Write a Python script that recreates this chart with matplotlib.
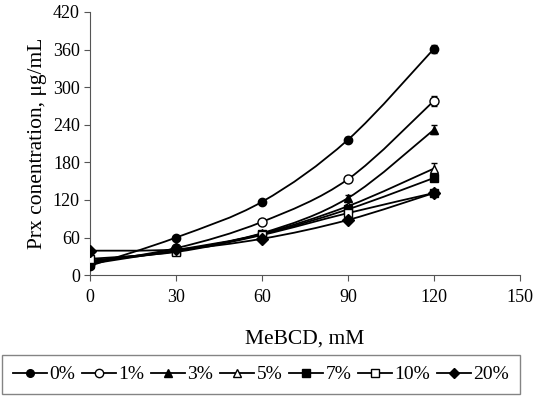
import numpy as np
import matplotlib
matplotlib.use("Agg")
import matplotlib.pyplot as plt
from matplotlib.path import Path
from matplotlib.patches import PathPatch
from matplotlib.lines import Line2D

plt.rcParams['font.family'] = ['Liberation Serif', 'DejaVu Serif']

mebcd = [0, 30, 60, 90, 120]
labels = ["0%", "1%", "3%", "5%", "7%", "10%", "20%"]
conc_0 = [15, 60, 117, 216, 361]
conc_1 = [20, 43, 85, 153, 278]
conc_3 = [18, 40, 67, 123, 232]
conc_5 = [22, 38, 66, 110, 170]
conc_7 = [23, 39, 65, 105, 155]
conc_10 = [26, 37, 64, 99, 131]
conc_20 = [39, 41, 58, 88, 131]
err_0 = [1, 2, 3, 4, 6]
err_1 = [1, 2, 3, 3, 8]
err_3 = [1, 2, 2, 5, 7]
err_5 = [1, 2, 2, 3, 9]
err_7 = [1, 1, 2, 3, 4]
err_10 = [1, 1, 2, 3, 4]
err_20 = [1, 1, 2, 3, 4]

series = [conc_0, conc_1, conc_3, conc_5, conc_7, conc_10, conc_20]
errors = [err_0, err_1, err_3, err_5, err_7, err_10, err_20]
markers = ['o', 'o', '^', '^', 's', 's', 'D']
fills = ['black', 'white', 'black', 'white', 'black', 'white', 'black']
sizes = [6, 6.5, 6, 6, 6, 6, 6]


def smooth_path(x, y, t=1 / 6):
    # Excel-style smoothed line: cubic Bezier through the points
    pts = np.column_stack([x, y]).astype(float)
    verts = [pts[0]]
    codes = [Path.MOVETO]
    n = len(pts)
    for i in range(n - 1):
        p0 = pts[i - 1] if i > 0 else pts[i]
        p1 = pts[i]
        p2 = pts[i + 1]
        p3 = pts[i + 2] if i + 2 < n else pts[i + 1]
        c1 = p1 + (p2 - p0) * t
        c2 = p2 - (p3 - p1) * t
        verts += [c1, c2, p2]
        codes += [Path.CURVE4] * 3
    return Path(verts, codes)


fig = plt.figure(figsize=(5.5, 3.97), dpi=100)
ax = fig.add_axes([0.164, 0.307, 0.781, 0.663])

handles = []
for y, e, m, fc, ms, lab in zip(series, errors, markers, fills, sizes, labels):
    ax.add_patch(PathPatch(smooth_path(mebcd, y), facecolor='none',
                           edgecolor='black', lw=1.3, zorder=2))
    ax.errorbar(mebcd, y, yerr=e, fmt='none', ecolor='black', elinewidth=1,
                capsize=2.5, capthick=1, zorder=3)
    ax.plot(mebcd, y, linestyle='none', marker=m, markersize=ms,
            markerfacecolor=fc, markeredgecolor='black', markeredgewidth=1,
            zorder=4)
    handles.append(Line2D([], [], color='black', lw=1.3, marker=m,
                          markersize=ms - 0.5, markerfacecolor=fc,
                          markeredgecolor='black', label=lab))

ax.set_xlim(0, 150)
ax.set_ylim(0, 420)
ax.set_xticks(range(0, 151, 30))
ax.set_yticks(range(0, 421, 60))
ax.spines['top'].set_visible(False)
ax.spines['right'].set_visible(False)
ax.spines['left'].set_color('#555555')
ax.spines['bottom'].set_color('#555555')
ax.tick_params(direction='out', length=4, color='#555555', labelsize=13)
ax.tick_params(axis='x', pad=6)
ax.set_xlabel("MeBCD, mM", fontsize=15.5, labelpad=17)
ax.set_ylabel("Prx conentration, μg/mL", fontsize=15.5, labelpad=4)

leg = fig.legend(handles=handles, ncol=7, loc='lower center',
                 bbox_to_anchor=(0.4745, 0.0), fontsize=14, frameon=True,
                 fancybox=False, edgecolor='#666666', handlelength=1.75,
                 handletextpad=0.12, columnspacing=0.35, borderpad=0.55,
                 borderaxespad=0.15)
leg.get_frame().set_linewidth(1)

fig.savefig("out.png", dpi=100)
